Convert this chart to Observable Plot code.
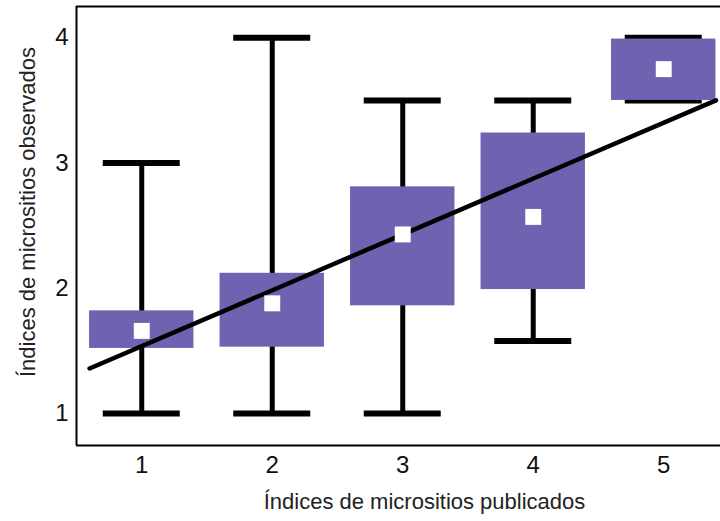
<!DOCTYPE html>
<html>
<head>
<meta charset="utf-8">
<script src="https://cdn.jsdelivr.net/npm/d3@7"></script>
<script src="https://cdn.jsdelivr.net/npm/@observablehq/plot@0.6"></script>
<style>
  html, body { margin: 0; padding: 0; background: #fff; }
  svg { display: block; }
</style>
</head>
<body>
<div id="chart"></div>
<script>
// --- data ---
const categories   = [1, 2, 3, 4, 5];
const whiskerLow   = [1.00, 1.00, 1.00, 1.58, 3.50];
const whiskerHigh  = [3.00, 4.00, 3.50, 3.50, 4.00];
const boxLow       = [1.52, 1.53, 1.86, 1.99, 3.50];
const boxHigh      = [1.82, 2.12, 2.81, 3.24, 3.99];
const centerValue  = [1.66, 1.88, 2.43, 2.57, 3.75];
const fitX         = [0.6, 5.4];
const fitY         = [1.36, 3.50];
const xTicks       = [1, 2, 3, 4, 5];
const yTicks       = [1, 2, 3, 4];
const xTitle = "Índices de micrositios publicados";
const yTitle = "Índices de micrositios observados";

const rows = categories.map((c, i) => ({
  x: c, wlo: whiskerLow[i], whi: whiskerHigh[i],
  blo: boxLow[i], bhi: boxHigh[i], mid: centerValue[i]
}));
const fit = fitX.map((x, i) => ({x, y: fitY[i]}));

const boxHalf = 0.4, capHalf = 0.295;
const purple = "#6f63b1";
const font = "'Liberation Sans', Arial, sans-serif";

const xDomain = [0.5, 5.435];
const yDomain = [0.745, 4.25];

const chart = Plot.plot({
  width: 720,
  height: 521,
  marginLeft: 76,
  marginRight: 0,
  marginTop: 6,
  marginBottom: 76,
  style: {fontFamily: font, fontSize: "22px", color: "#000", background: "#fff"},
  x: {domain: xDomain, label: null},
  y: {domain: yDomain, label: null},
  marks: [
    Plot.axisX({ticks: xTicks, tickSize: 0, tickPadding: 10, tickFormat: d3.format("d"), label: null, fill: "#111"}),
    Plot.axisY({ticks: yTicks, tickSize: 0, tickPadding: 8, tickFormat: d3.format("d"), label: null, fill: "#111"}),
    // whisker stems
    Plot.ruleX(rows, {x: "x", y1: "wlo", y2: "whi", stroke: "#000", strokeWidth: 5}),
    // whisker caps
    Plot.ruleY(rows, {y: "wlo", x1: d => d.x - capHalf, x2: d => d.x + capHalf, stroke: "#000", strokeWidth: 6}),
    Plot.ruleY(rows, {y: "whi", x1: d => d.x - capHalf, x2: d => d.x + capHalf, stroke: "#000", strokeWidth: 6}),
    // boxes
    Plot.rect(rows, {x1: d => d.x - boxHalf, x2: d => d.x + boxHalf, y1: "blo", y2: "bhi", fill: purple}),
    // regression line
    Plot.line(fit, {x: "x", y: "y", stroke: "#000", strokeWidth: 4.5}),
    // center markers
    Plot.dot(rows, {x: "x", y: "mid", symbol: "square", r: 9, fill: "#fff", stroke: null}),
    // frame: left, top, bottom
    Plot.ruleX([xDomain[0]], {stroke: "#000", strokeWidth: 2}),
    Plot.ruleY([yDomain[0], yDomain[1]], {stroke: "#000", strokeWidth: 2}),
    // axis titles
    Plot.text([xTitle], {frameAnchor: "bottom", text: d => d, dx: 26, dy: 56, lineAnchor: "middle", textAnchor: "middle", fontSize: 22, fill: "#222"}),
    Plot.text([yTitle], {frameAnchor: "left", text: d => d, dx: -49, dy: -14, rotate: -90, lineAnchor: "middle", textAnchor: "middle", fontSize: 22, fill: "#222"})
  ]
});
d3.select(chart).selectAll('g[aria-label$="tick label"]').attr("font-size", 24).selectAll("text").attr("font-size", 24);
document.getElementById("chart").appendChild(chart);
</script>
</body>
</html>
